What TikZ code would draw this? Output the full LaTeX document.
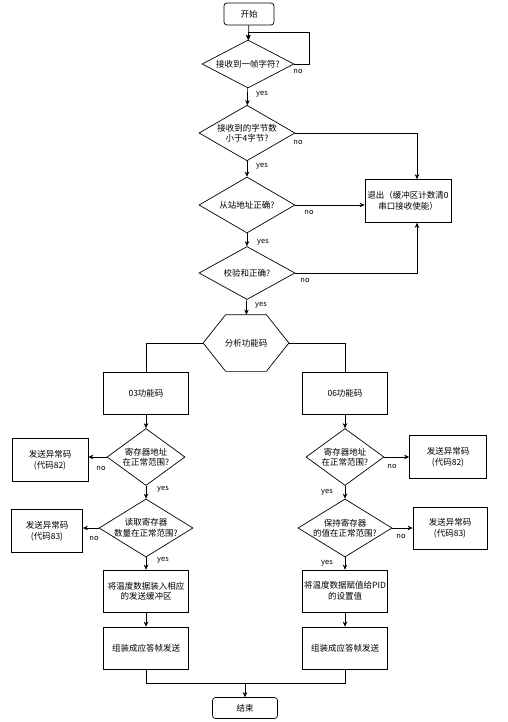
\documentclass[tikz,border=0pt]{standalone}
\usepackage{fontspec}
\setmainfont{Noto Sans CJK SC}
\usetikzlibrary{arrows.meta,shapes.geometric}

\begin{document}
\begin{tikzpicture}[
    x=1pt,y=-1pt,
    font=\fontsize{8.5}{10.5}\selectfont,
    line width=0.7pt,
    >={Stealth[length=5pt,width=4.5pt]},
    terminal/.style={draw,rounded corners=3pt,minimum width=50pt,minimum height=22pt,inner sep=0pt},
    process/.style={draw,align=center,inner sep=0pt,minimum width=85pt,minimum height=42pt},
    decision/.style={draw,diamond,aspect=1.6,align=center,inner sep=0pt},
    lab/.style={font=\fontsize{7.5}{8}\selectfont,inner sep=0pt}
]

\useasboundingbox (0,0) rectangle (508,722);

% main chain
\node[terminal] (start) at (249,14) {开始};
\node[decision,minimum width=92pt,minimum height=48pt] (d1) at (248,64) {接收到一帧字符?};
\node[decision,minimum width=96pt,minimum height=55pt] (d2) at (247,133) {接收到的字节数\\小于4字节?};
\node[decision,minimum width=96pt,minimum height=56pt] (d3) at (247,205) {从站地址正确?};
\node[decision,minimum width=96pt,minimum height=53pt] (d4) at (247,273) {校验和正确?};
\node[process,minimum width=86pt,minimum height=43pt] (exit) at (408,201) {退出（缓冲区计数清0\\串口接收使能）};

\node[minimum width=85pt,minimum height=56pt] (hex) at (246,343) {分析功能码};
\draw (hex.west) -- ([xshift=22.5]hex.north west) -- ([xshift=-22.5]hex.north east) -- (hex.east)
    -- ([xshift=-22.5]hex.south east) -- ([xshift=22.5]hex.south west) -- cycle;

% 03 branch
\node[process] (f03) at (146,393) {03功能码};
\node[decision,minimum width=78pt,minimum height=57pt] (a1) at (146,457) {寄存器地址\\在正常范围?};
\node[decision,minimum width=94pt,minimum height=56pt] (a2) at (146,528) {读取寄存器\\数量在正常范围?};
\node[process,minimum width=76pt,minimum height=43pt] (e1) at (50,460) {发送异常码\\(代码82)};
\node[process,minimum width=71pt,minimum height=43pt] (e2) at (47,531) {发送异常码\\(代码83)};
\node[process] (l3) at (146,591) {将温度数据装入相应\\的发送缓冲区};
\node[process] (l4) at (146,648) {组装成应答帧发送};

% 06 branch
\node[process] (f06) at (345,393) {06功能码};
\node[decision,minimum width=78pt,minimum height=57pt] (b1) at (345,457) {寄存器地址\\在正常范围?};
\node[decision,minimum width=94pt,minimum height=56pt] (b2) at (345,528) {保持寄存器\\的值在正常范围?};
\node[process,minimum width=77pt,minimum height=43pt] (e3) at (448,457) {发送异常码\\(代码82)};
\node[process,minimum width=74pt,minimum height=42pt] (e4) at (450,528) {发送异常码\\(代码83)};
\node[process] (r3) at (345,591) {将温度数据赋值给PID\\的设置值};
\node[process] (r4) at (345,648) {组装成应答帧发送};

\node[terminal,minimum width=65pt,minimum height=21pt] (end) at (245,708) {结束};

\coordinate (loop) at (309,32);
\coordinate (join) at (245,683);

% connectors
\draw[->] (start) -- (d1);
\draw[->] (d1.east) -| (loop) -| (d1.north);
\draw[->] (d1) -- (d2);
\draw[->] (d2) -- (d3);
\draw[->] (d3) -- (d4);
\draw[->] (d4) -- (hex);
\draw[->] (d2.east) -| ([xshift=9]exit.north);
\draw[->] (d3.east) -- (d3.east -| exit.west);
\draw[->] (d4.east) -| ([xshift=9]exit.south);

\draw (hex.west) -| (f03.north);
\draw (hex.east) -| (f06.north);

\draw[->] (f03) -- (a1);
\draw[->] (a1.west) -- (a1.west -| e1.east);
\draw[->] (a1) -- (a2);
\draw[->] (a2.west) -- (a2.west -| e2.east);
\draw[->] (a2) -- (l3);
\draw[->] (l3) -- (l4);

\draw[->] (f06) -- (b1);
\draw[->] (b1.east) -- (b1.east -| e3.west);
\draw[->] (b1) -- (b2);
\draw[->] (b2.east) -- (b2.east -| e4.west);
\draw[->] (b2) -- (r3);
\draw[->] (r3) -- (r4);

\draw (l4.south) |- (join);
\draw (r4.south) |- (join);
\draw[->] (join) -- (end);

% labels
\node[lab] (y1) at (262,94) {yes};
\node[lab] (y2) at (262,166) {yes};
\node[lab] (y3) at (263,242) {yes};
\node[lab] (y4) at (261,305) {yes};
\node[lab] (y5) at (163,489) {yes};
\node[lab] (y6) at (163,560) {yes};
\node[lab] (y7) at (327,492) {yes};
\node[lab] (y8) at (327,563) {yes};

\node[lab] (n1) at (298,71) {no};
\node[lab] (n2) at (298,142) {no};
\node[lab] (n3) at (309,212) {no};
\node[lab] (n4) at (305,280) {no};
\node[lab] (n5) at (101,468) {no};
\node[lab] (n6) at (94,538) {no};
\node[lab] (n7) at (392,466) {no};
\node[lab] (n8) at (401,536) {no};

\end{tikzpicture}
\end{document}
